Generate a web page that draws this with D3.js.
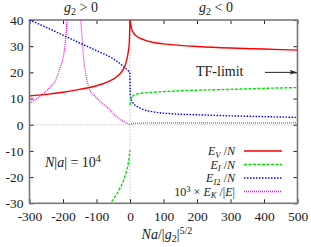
<!DOCTYPE html>
<html>
<head>
<meta charset="utf-8">
<script src="https://cdn.jsdelivr.net/npm/d3@7"></script>
<style>
  body { margin: 0; background: #fff; }
  svg text, svg tspan { font-family: "Liberation Serif" !important; }
</style>
</head>
<body>
<svg id="chart" width="311" height="247"></svg>
<script>
const width = 311;
const height = 247;
const serif = '"Liberation Serif"';

// x ticks and y ticks
const xTicks = [-300, -200, -100, 0, 100, 200, 300, 400, 500];
const yTicks = [-30, -20, -10, 0, 10, 20, 30, 40];

// E_V/N (red)
const evX = [-300, -250, -200, -150, -100, -70, -50, -35, -25, -15, -10, -5, -2, -0.5, 0,
             0.5, 2, 5, 10, 20, 40, 70, 100, 150, 200, 300, 400, 500];
const evY = [11, 11.6, 12.4, 13.5, 14.9, 16.2, 17.4, 18.8, 20.2, 22.5, 24.7, 28, 31.5, 38.5, 41,
             40, 38.5, 36.5, 35.2, 33.8, 32.5, 31.4, 30.9, 30.3, 29.9, 29.3, 28.9, 28.5];

// E_I/N (green), two branches
const eiLeftX = [-60, -57, -50, -40, -30, -20, -10, -5, -2, -0.3];
const eiLeftY = [-31, -30, -28.5, -26.6, -24.2, -21.5, -17.5, -14.7, -12, -9.7];
const eiRightX = [0.3, 2, 6, 18, 40, 67, 137, 200, 300, 400, 500];
const eiRightY = [7.5, 9.5, 10.7, 11.6, 12.1, 12.4, 12.9, 13.2, 13.5, 13.9, 14.2];

// E_I2/N (blue)
const ei2X = [-300, -250, -200, -150, -100, -50, -20, -5, -0.5, 0.3, 2, 8, 28, 67, 137, 200, 300, 400, 500];
const ei2Y = [40, 37.2, 34.2, 31.2, 28.3, 25.2, 22.3, 20.6, 20, 12.5, 10.5, 8.5, 6.5, 5, 4.1, 3.8, 3.4, 3.1, 2.8];

// 10^3 x E_K/|E| (magenta), split at the pole
const ekLeftX = [-300, -280, -264, -240, -224, -208, -200, -193, -188, -186];
const ekLeftY = [8.2, 9.8, 11.3, 14.2, 16.6, 22, 25.5, 31.7, 40, 44];
const ekRightX = [-151, -147, -143, -138, -130, -119, -105, -90, -65, -36, -15, -5, 0, 0.5, 20, 100, 200, 300, 400, 500];
const ekRightY = [44, 40, 33, 25, 18, 13, 11, 9, 6.3, 2.6, 1, 0.4, 0.2, 0.3, 0.6, 0.7, 0.7, 0.7, 0.7, 0.7];

const svg = d3.select("#chart");

const x = d3.scaleLinear().domain([-300, 500]).range([29.5, 297.5]);
const y = d3.scaleLinear().domain([-30, 40]).range([203.3, 20]);

svg.append("clipPath").attr("id", "clip")
    .append("rect")
    .attr("x", x(-300)).attr("y", y(40))
    .attr("width", x(500) - x(-300)).attr("height", y(-30) - y(40));

// zero axes
svg.append("line")
    .attr("x1", x(-300)).attr("x2", x(500))
    .attr("y1", y(0)).attr("y2", y(0))
    .attr("stroke", "#aaa").attr("stroke-width", 1).attr("stroke-dasharray", "1,2");
svg.append("line")
    .attr("x1", x(0)).attr("x2", x(0))
    .attr("y1", y(-30)).attr("y2", y(40))
    .attr("stroke", "#aaa").attr("stroke-width", 1).attr("stroke-dasharray", "1,2");

// axes with inward ticks on all four sides
function styleAxis(g) {
    g.attr("font-family", null);
    g.select(".domain").remove();
    g.selectAll(".tick line").attr("stroke", "#222");
    g.selectAll("text")
        .style("font-family", serif)
        .style("font-size", "13.5px")
        .attr("fill", "#222");
}

svg.append("g")
    .attr("transform", `translate(0,${y(-30)})`)
    .call(d3.axisBottom(x).tickValues(xTicks).tickSize(-4).tickPadding(8).tickFormat(d => String(d)))
    .call(styleAxis);
svg.append("g")
    .attr("transform", `translate(0,${y(40)})`)
    .call(d3.axisTop(x).tickValues(xTicks).tickSize(-4).tickFormat(""))
    .call(styleAxis);
svg.append("g")
    .attr("transform", `translate(${x(-300)},0)`)
    .call(d3.axisLeft(y).tickValues(yTicks).tickSize(-4).tickPadding(6).tickFormat(d => String(d)))
    .call(styleAxis);
svg.append("g")
    .attr("transform", `translate(${x(500)},0)`)
    .call(d3.axisRight(y).tickValues(yTicks).tickSize(-4).tickFormat(""))
    .call(styleAxis);

// frame
svg.append("rect")
    .attr("x", x(-300)).attr("y", y(40))
    .attr("width", x(500) - x(-300)).attr("height", y(-30) - y(40))
    .attr("fill", "none").attr("stroke", "#777").attr("stroke-width", 1.6);

// curves
const line = d3.line()
    .x(d => x(d[0]))
    .y(d => y(d[1]))
    .curve(d3.curveMonotoneX);

function curve(xs, ys, color, dash, w) {
    svg.append("path")
        .datum(xs.map((v, i) => [v, ys[i]]))
        .attr("clip-path", "url(#clip)")
        .attr("fill", "none")
        .attr("stroke", color)
        .attr("stroke-width", w)
        .attr("stroke-dasharray", dash)
        .attr("d", line);
}

curve(ekLeftX, ekLeftY, "#ff00ff", "1,1", 1.2);
curve(ekRightX, ekRightY, "#ff00ff", "1,1", 1.2);
curve(ei2X, ei2Y, "#0000ff", "1.5,1.5", 1.4);
curve(eiLeftX, eiLeftY, "#00e000", "3,1.5", 1.4);
curve(eiRightX, eiRightY, "#00e000", "3,1.5", 1.4);
curve(evX, evY, "#ff0000", null, 1.4);

// rich text helper: parts = [text, style] where style: "i" italic, "sub", "subi", "sup"
function rich(px, py, parts, anchor, size, supShift) {
    const fs = size || 14;
    const up = supShift || 5;
    const t = svg.append("text")
        .attr("x", px).attr("y", py)
        .attr("text-anchor", anchor || "start")
        .attr("fill", "#222")
        .style("font-family", serif)
        .style("font-size", fs + "px");
    let shift = 0;
    parts.forEach(p => {
        const s = t.append("tspan").text(p[0]);
        const st = p[1] || "";
        let target = 0;
        if (st.indexOf("sub") === 0) { target = 2.5; s.style("font-size", (fs * 0.72) + "px"); }
        if (st === "sup") { target = -up; s.style("font-size", (fs * 0.72) + "px"); }
        if (st === "i" || st === "subi") s.style("font-style", "italic");
        if (target !== shift) { s.attr("dy", target - shift); shift = target; }
    });
    return t;
}

rich(81, 12, [["g", "i"], ["2", "sub"], [" > 0", ""]], "middle");
rich(216, 12, [["g", "i"], ["2", "sub"], [" < 0", ""]], "middle");
rich(167, 239, [["Na", "i"], ["/|", ""], ["g", "i"], ["2", "sub"], ["|", ""], ["5/2", "sup"]], "middle");
rich(45, 167, [["N", "i"], ["|", ""], ["a", "i"], ["| = 10", ""], ["4", "sup"]]);
rich(196, 76, [["TF-limit", ""]]);

// TF-limit arrow
svg.append("line")
    .attr("x1", 265).attr("x2", x(500) - 1)
    .attr("y1", y(20)).attr("y2", y(20))
    .attr("stroke", "#222").attr("stroke-width", 1);
svg.append("path")
    .attr("d", `M${x(500) - 1},${y(20)} l-7,-2.5 l2,2.5 l-2,2.5 z`)
    .attr("fill", "#222");

// legend
const legendLabels = [
    [["E", "i"], ["V", "subi"], [" /", ""], ["N", "i"]],
    [["E", "i"], ["I", "subi"], [" /", ""], ["N", "i"]],
    [["E", "i"], ["I", "subi"], ["2", "sub"], [" /", ""], ["N", "i"]],
    [["10", ""], ["3", "sup"], [" × ", ""], ["E", "i"], ["K", "subi"], [" /|", ""], ["E", "i"], ["|", ""]]
];
const legendColors = ["#ff0000", "#00e000", "#0000ff", "#ff00ff"];
const legendDash = [null, "3,1.5", "1.5,1.5", "1,1"];
legendLabels.forEach((lab, i) => {
    const ly = 151 + i * 13.5;
    rich(235, ly + 4, lab, "end", 12, 3.5);
    svg.append("line")
        .attr("x1", 244).attr("x2", 282)
        .attr("y1", ly).attr("y2", ly)
        .attr("stroke", legendColors[i])
        .attr("stroke-width", 1.4)
        .attr("stroke-dasharray", legendDash[i]);
});
</script>
</body>
</html>
